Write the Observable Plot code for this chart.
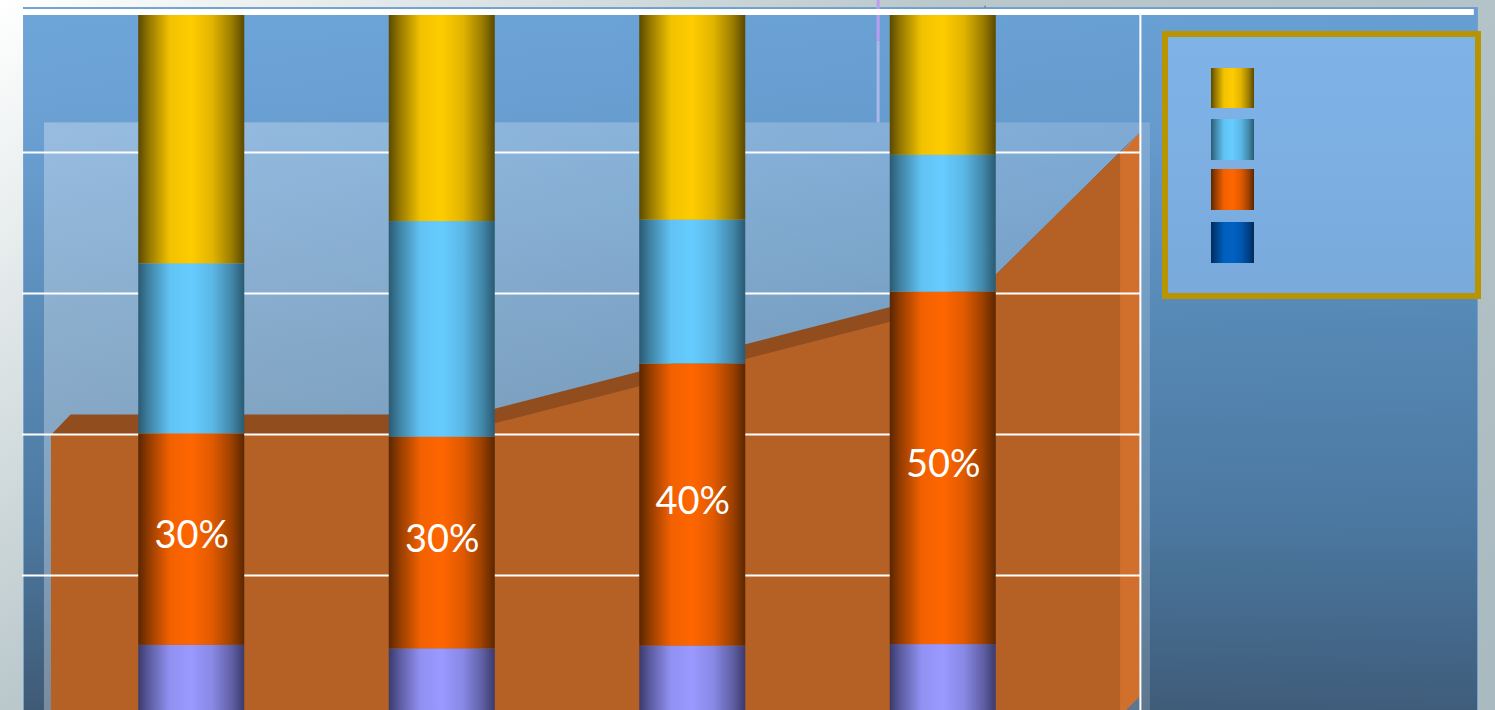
<!DOCTYPE html>
<html>
<head>
<meta charset="utf-8">
<script src="https://cdn.jsdelivr.net/npm/d3@7"></script>
<script src="https://cdn.jsdelivr.net/npm/@observablehq/plot@0.6"></script>
<style>
  html, body { margin: 0; padding: 0; width: 1495px; height: 710px; overflow: hidden; }
  body {
    position: relative;
    background: linear-gradient(143deg, #ffffff 0%, #bac8cb 39%, #a9bac0 100%);
  }
  svg { display: block; background: transparent !important; }
  #legend {
    position: absolute; left: 1162px; top: 31px; width: 307px; height: 256px;
    border: 6px solid #b89400;
    background: linear-gradient(180deg, #7fb3e8, #7aaadc);
  }
  #legend .swatch { position: absolute; left: 43px; width: 43px; }
</style>
</head>
<body>
<div id="chart"></div>
<div id="legend"></div>
<script>
// Stacked column values, percent of each column, bottom to top
const columnPositions = [0.5, 1.5, 2.5, 3.5];
const baseShare   = [10.1, 9.6, 10, 10.2];
const orangeShare = [30, 30, 40, 50];
const blueShare   = [24.1, 30.6, 20.4, 19.4];
const yellowShare = [35.8, 29.8, 29.6, 20.4];

// Backdrop area series
const areaPositions = [-0.06, 1.545, 3.605, 4.208];
const areaValues    = [40, 40, 58.8, 80];

const gridValues = [20, 40, 60, 80];

// Cylinder shading: edge colour, mid colour
const shades = {
  yellow: ["#5a4900", "#ffcc00"],
  blue:   ["#2a5a72", "#66ccff"],
  orange: ["#5a2600", "#ff6600"],
  base:   ["#3a3a6c", "#9999ff"],
  navy:   ["#002a5a", "#0062c4"]
};
const legendShades = ["yellow", "blue", "orange", "navy"];
const legendTops = [31, 82, 132, 185];
const legendHeights = [40, 41, 41, 41];

const stopOffsets = [0, 0.1, 0.3, 0.5, 0.7, 0.88, 1];
const stopMix     = [0, 0.35, 0.92, 1, 0.82, 0.4, 0];
const stops = ([edge, mid]) => stopOffsets.map((o, i) => [o, d3.interpolateRgb(edge, mid)(stopMix[i])]);

const halfWidth = 0.2116;
const depthX = 0.076, depthY = 2.85;

const front = areaPositions.map((x, i) => ({x, y: areaValues[i]}));
const topFace = [...front, ...front.map(d => ({x: d.x + depthX, y: d.y + depthY})).reverse()];
const last = front[front.length - 1];
const sideFace = [
  {x: last.x - 0.004, y: last.y - 0.4},
  {x: last.x + depthX, y: last.y + depthY},
  {x: last.x + depthX, y: depthY},
  {x: last.x - 0.004, y: 0}
];

// Stack the four shares into y1/y2 rows
const layers = [
  {key: "base", values: baseShare},
  {key: "orange", values: orangeShare},
  {key: "blue", values: blueShare},
  {key: "yellow", values: yellowShare}
];
const floor = columnPositions.map(() => 0);
for (const layer of layers) {
  layer.rows = columnPositions.map((c, i) => {
    const y1 = floor[i];
    floor[i] += layer.values[i];
    return {x1: c - halfWidth, x2: c + halfWidth, y1, y2: floor[i], value: layer.values[i]};
  });
}
const orangeRows = layers[1].rows;

function gradients() {
  const defs = d3.create("svg:defs");
  const vertical = (id, list) => {
    const g = defs.append("linearGradient").attr("id", id).attr("x1", 0).attr("x2", 0).attr("y1", 0).attr("y2", 1);
    list.forEach(([o, c]) => g.append("stop").attr("offset", o).attr("stop-color", c));
  };
  for (const key in shades) {
    const g = defs.append("linearGradient").attr("id", "shade-" + key);
    stops(shades[key]).forEach(([o, c]) => g.append("stop").attr("offset", o).attr("stop-color", c));
  }
  vertical("panel", [[0, "#6ea6da"], [0.18, "#6a9fd2"], [0.45, "#5a8cb8"], [0.72, "#4d7aa2"], [1, "#3f5a75"]]);
  const drift = defs.append("linearGradient").attr("id", "drift").attr("x1", 0).attr("x2", 1).attr("y1", 0).attr("y2", 0);
  drift.append("stop").attr("offset", 0).attr("stop-color", "#3f6f9f").attr("stop-opacity", 0);
  drift.append("stop").attr("offset", 1).attr("stop-color", "#3f6f9f").attr("stop-opacity", 0.14);
  const haze = defs.append("linearGradient").attr("id", "haze");
  haze.append("stop").attr("offset", 0).attr("stop-color", "#fff").attr("stop-opacity", 0.3);
  haze.append("stop").attr("offset", 1).attr("stop-color", "#fff").attr("stop-opacity", 0.16);
  return defs.node();
}

const chart = Plot.plot({
  width: 1495,
  height: 710,
  marginTop: 7,
  marginRight: 18,
  marginBottom: 0,
  marginLeft: 23,
  x: {domain: [0, 4], range: [66, 1068], axis: null},
  y: {domain: [0, 100], range: [716, 11], axis: null},
  marks: [
    gradients,
    Plot.frame({fill: "url(#panel)", stroke: "#7aa4cc"}),
    Plot.frame({fill: "url(#drift)"}),
    Plot.rect([{x1: -0.088, x2: 4.327, y1: -1, y2: 84.2}], {x1: "x1", x2: "x2", y1: "y1", y2: "y2", fill: "url(#haze)"}),
    Plot.ruleX([3.24], {y1: 84.2, y2: 95.8, stroke: "#aab8ea", strokeWidth: 3}),
    Plot.ruleX([3.24], {y1: 95.8, y2: 102, stroke: "#bb9cf0", strokeWidth: 3}),
    Plot.ruleX([3.667], {y1: 100.5, y2: 100.75, stroke: "#4a5a78", strokeWidth: 1}),
    Plot.line(topFace, {x: "x", y: "y", fill: "#914d1e", stroke: "none"}),
    Plot.line(sideFace, {x: "x", y: "y", fill: "#d0702c", stroke: "none"}),
    Plot.areaY(front, {x: "x", y: "y", fill: "#b56024"}),
    Plot.ruleY(gridValues, {x1: -0.176, x2: 4.287, stroke: "white", strokeWidth: 2}),
    Plot.ruleX([4.287], {y1: -1, y2: 100, stroke: "white", strokeWidth: 2}),
    ...layers.map(layer => Plot.rect(layer.rows, {
      x1: "x1", x2: "x2", y1: "y1", y2: "y2", fill: `url(#shade-${layer.key})`
    })),
    Plot.text(orangeRows, {
      x: d => (d.x1 + d.x2) / 2,
      y: d => (d.y1 + d.y2) / 2,
      text: d => `${d.value}%`,
      dy: -3.5,
      fill: "white",
      fontFamily: "Lato, 'Open Sans', sans-serif",
      fontSize: 38,
      fontWeight: 400
    }),
    Plot.ruleY([100], {x1: -0.176, x2: 5.62, dy: 0.5, stroke: "white", strokeWidth: 6})
  ]
});
document.getElementById("chart").append(chart);

// Legend swatches, no captions
const legend = d3.select("#legend");
legendShades.forEach((key, i) => {
  const css = stops(shades[key]).map(([o, c]) => `${c} ${o * 100}%`).join(", ");
  legend.append("div").attr("class", "swatch")
    .style("top", legendTops[i] + "px")
    .style("height", legendHeights[i] + "px")
    .style("background", `linear-gradient(90deg, ${css})`);
});
</script>
</body>
</html>
